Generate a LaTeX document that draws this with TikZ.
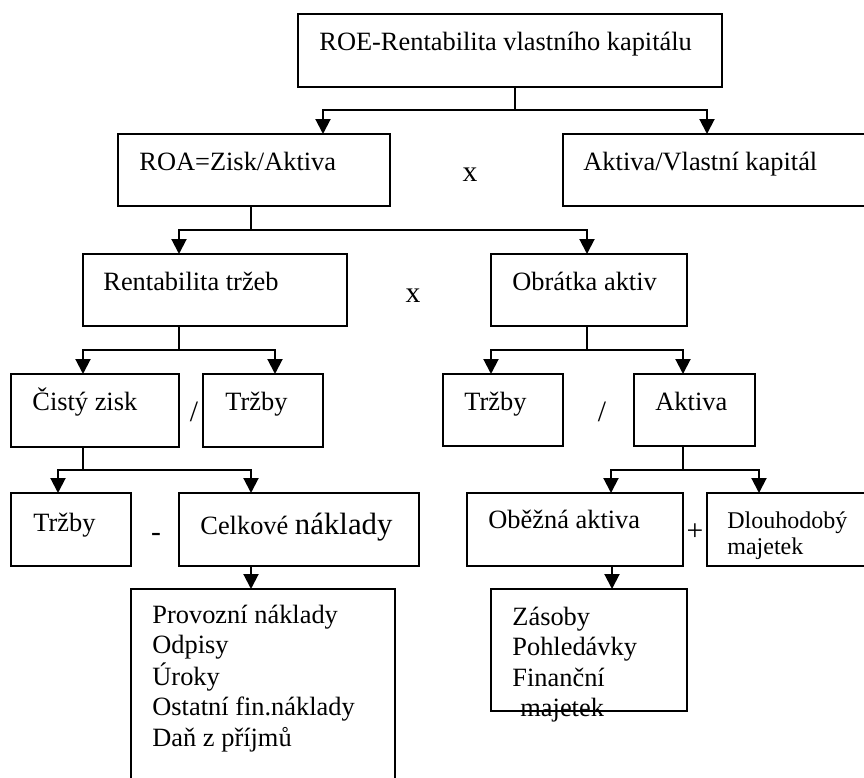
\documentclass[tikz,border=0pt]{standalone}
\usepackage{fontspec}
\setmainfont{Liberation Serif}
\usetikzlibrary{arrows.meta}
\newcommand\mkbox[5]{\node[box,minimum width={(#4-#2)*0.5pt},minimum height={(#5-#3)*0.5pt}] (#1) at ({(#2+#4)/2},{(#3+#5)/2}) {};}
\begin{document}
\begin{tikzpicture}[x=0.5pt,y=-0.5pt,
  box/.style={draw, line width=1pt, inner sep=0pt, outer sep=0pt, rectangle},
  txt/.style={inner sep=0pt, anchor=base west, font=\fontsize{13.2}{15.25}\selectfont},
  op/.style={inner sep=0pt, anchor=base, font=\fontsize{14.8}{17}\selectfont},
  conn/.style={line width=1pt},
  arr/.style={line width=1pt, -{Triangle[length=7.5pt,width=7.5pt]}}]
\useasboundingbox (0,0) rectangle (864,778);
\clip (0,0) rectangle (864,778);
% boxes
\mkbox{roe}{298}{14}{722}{87}
\mkbox{roa}{118}{134}{390}{206}
\mkbox{avk}{563}{134}{880}{206}
\mkbox{rt}{83}{254}{347}{326}
\mkbox{oa}{491}{254}{687}{326}
\mkbox{cz}{11}{374}{179}{447}
\mkbox{trA}{203}{374}{323}{447}
\mkbox{trC}{443}{374}{563}{446}
\mkbox{ak}{634}{374}{755}{446}
\mkbox{trB}{11}{493}{131}{566}
\mkbox{cn}{179}{493}{419}{566}
\mkbox{ob}{467}{493}{683}{566}
\mkbox{dl}{707}{493}{880}{566}
\mkbox{pn}{131}{589}{395}{800}
\mkbox{zp}{491}{589}{687}{711}
% texts
\node[txt] (troe) at (319,50) {ROE-Rentabilita vlastního kapitálu};
\node[txt] (troa) at (139,170) {ROA=Zisk/Aktiva};
\node[txt] (tavk) at (583,170) {Aktiva/Vlastní kapitál};
\node[txt] (trt) at (103,290) {Rentabilita tržeb};
\node[txt] (toa) at (512,290) {Obrátka aktiv};
\node[txt] (tcz) at (32,410) {Čistý zisk};
\node[txt] (ttrA) at (225,410) {Tržby};
\node[txt] (ttrC) at (464,410) {Tržby};
\node[txt] (tak) at (655,410) {Aktiva};
\node[txt] (ttrB) at (33,531) {Tržby};
\node[txt] (tcn) at (200,534) {Celkové {\fontsize{15.4}{18}\selectfont náklady}};
\node[txt] (tob) at (488,528) {Oběžná aktiva};
\node[txt, font=\fontsize{12}{13}\selectfont] (tdl) at (727,528) {\begin{tabular}[t]{@{}l@{}}Dlouhodobý\\majetek\end{tabular}};
\node[txt] (tpn) at (152,623) {\begin{tabular}[t]{@{}l@{}}Provozní náklady\\Odpisy\\Úroky\\Ostatní fin.náklady\\Daň z příjmů\end{tabular}};
\node[txt] (tzp) at (512,625) {\begin{tabular}[t]{@{}l@{}}Zásoby\\Pohledávky\\Finanční\\\hspace{4pt}majetek\end{tabular}};
% operators
\node[op] (x1) at (470,181) {x};
\node[op] (x2) at (413,302) {x};
\node[op] (s1) at (194,421) {/};
\node[op] (s2) at (602,421) {/};
\node[op] (m1) at (156,541) {-};
\node[op] (p1) at (695,540) {+};
% connectors
\draw[conn] ([shift={(5,0)}]roe.south) -- ++(0,23) coordinate (j1);
\draw[arr] (j1) -| ([shift={(205,0)}]roa.north west);
\draw[arr] (j1) -| ([shift={(144,0)}]avk.north west);
\draw[conn] ([shift={(133,0)}]roa.south west) -- ++(0,24) coordinate (j2);
\draw[arr] (j2) -| ([shift={(96,0)}]rt.north west);
\draw[arr] (j2) -| ([shift={(96,0)}]oa.north west);
\draw[conn] ([shift={(96,0)}]rt.south west) -- ++(0,24) coordinate (j3);
\draw[arr] (j3) -| ([shift={(72,0)}]cz.north west);
\draw[arr] (j3) -| ([shift={(72,0)}]trA.north west);
\draw[conn] ([shift={(96,0)}]oa.south west) -- ++(0,24) coordinate (j4);
\draw[arr] (j4) -| ([shift={(48,0)}]trC.north west);
\draw[arr] (j4) -| ([shift={(49,0)}]ak.north west);
\draw[conn] ([shift={(72,0)}]cz.south west) -- ++(0,23) coordinate (j5);
\draw[arr] (j5) -| ([shift={(47,0)}]trB.north west);
\draw[arr] (j5) -| ([shift={(72,0)}]cn.north west);
\draw[conn] ([shift={(49,0)}]ak.south west) -- ++(0,24) coordinate (j6);
\draw[arr] (j6) -| ([shift={(144,0)}]ob.north west);
\draw[arr] (j6) -| ([shift={(52,0)}]dl.north west);
\draw[arr] ([shift={(72,0)}]cn.south west) -- ([shift={(120,0)}]pn.north west);
\draw[arr] ([shift={(145,0)}]ob.south west) -- ([shift={(121,0)}]zp.north west);
\end{tikzpicture}
\end{document}
